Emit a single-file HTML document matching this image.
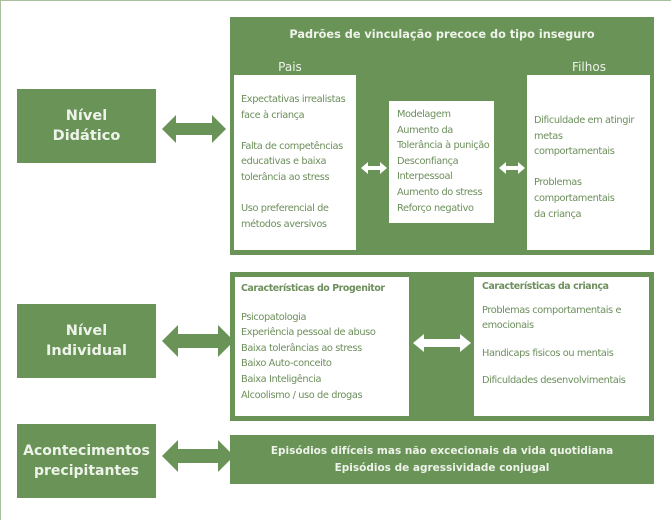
<!DOCTYPE html>
<html><head><meta charset="utf-8"><style>
*{margin:0;padding:0;box-sizing:border-box}
body{width:671px;height:520px;background:#fff;position:relative;overflow:hidden;font-family:"DejaVu Sans","Liberation Sans",sans-serif}
.frame{position:absolute;left:0;top:0;width:671px;height:520px;border-top:1px solid #a9c09c;border-left:1px solid #a9c09c}
.g{position:absolute;background:#6a9358}
.w{position:absolute;background:#fff;color:#6d8f5c;font-size:9.8px;line-height:15.6px;letter-spacing:-0.4px}
.lvl{color:#eef3ea;font-weight:bold;font-size:14.5px;line-height:20px;text-align:center;display:flex;align-items:center;justify-content:center}
svg{position:absolute}
</style></head><body>
<div class="frame"></div>

<div class="g lvl" style="left:17px;top:89px;width:139px;height:74px">Nível<br>Didático</div>
<div class="g lvl" style="left:17px;top:304px;width:139px;height:74px">Nível<br>Individual</div>
<div class="g lvl" style="left:17px;top:424px;width:139px;height:74px;font-size:14px">Acontecimentos<br>precipitantes</div>

<svg style="left:160px;top:114px" width="68" height="30"><polygon points="2,15 16,1 16,9 52,9 52,1 66,15 52,29 52,21 16,21 16,29" fill="#6a9358"/></svg>
<svg style="left:160px;top:324px" width="76" height="34"><polygon points="2,17 18,1 18,10 58,10 58,1 74,17 58,33 58,24 18,24 18,33" fill="#6a9358"/></svg>
<svg style="left:160px;top:439px" width="76" height="34"><polygon points="2,17 18,1 18,10 58,10 58,1 74,17 58,33 58,24 18,24 18,33" fill="#6a9358"/></svg>

<div class="g" style="left:230px;top:17px;width:424px;height:238px"></div>
<div style="position:absolute;left:230px;top:28px;width:424px;text-align:center;color:#eef3ea;font-weight:bold;font-size:11.3px">Padrões de vinculação precoce do tipo inseguro</div>
<div style="position:absolute;left:260px;top:60px;width:60px;text-align:center;color:#eef3ea;font-size:12px">Pais</div>
<div style="position:absolute;left:559px;top:60px;width:60px;text-align:center;color:#eef3ea;font-size:12px">Filhos</div>

<div class="w" style="left:234px;top:75px;width:122px;height:175px;padding:17px 0 0 7px">Expectativas irrealistas<br>face à criança<br><br>Falta de competências<br>educativas e baixa<br>tolerância ao stress<br><br>Uso preferencial de<br>métodos aversivos</div>
<div class="w" style="left:389px;top:101px;width:105px;height:122px;padding:6px 0 0 8px;white-space:nowrap;overflow:hidden">Modelagem<br>Aumento da<br>Tolerância à punição<br>Desconfiança<br>Interpessoal<br>Aumento do stress<br>Reforço negativo</div>
<div class="w" style="left:527px;top:75px;width:123px;height:175px;padding:38px 0 0 7px">Dificuldade em atingir<br>metas<br>comportamentais<br><br>Problemas<br>comportamentais<br>da criança</div>

<svg style="left:360px;top:161px" width="28" height="14"><polygon points="1,7 8,1 8,5 20,5 20,1 27,7 20,13 20,9 8,9 8,13" fill="#fff"/></svg>
<svg style="left:498px;top:161px" width="28" height="14"><polygon points="1,7 8,1 8,5 20,5 20,1 27,7 20,13 20,9 8,9 8,13" fill="#fff"/></svg>

<div class="g" style="left:230px;top:272px;width:424px;height:149px"></div>
<div class="w" style="left:235px;top:277px;width:174px;height:139px;padding:4px 0 0 6px"><b style="font-size:9.4px">Características do Progenitor</b><br><div style="height:13px"></div>Psicopatologia<br>Experiência pessoal de abuso<br>Baixa tolerâncias ao stress<br>Baixo Auto-conceito<br>Baixa Inteligência<br>Alcoolismo / uso de drogas</div>
<div class="w" style="left:474px;top:277px;width:175px;height:139px;padding:2px 0 0 8px"><b style="font-size:9.4px">Características da criança</b><br><div style="height:8px"></div>Problemas comportamentais e<br>emocionais<br><div style="height:12px"></div>Handicaps fisicos ou mentais<br><div style="height:12px"></div>Dificuldades desenvolvimentais</div>
<svg style="left:412px;top:333px" width="60" height="20"><polygon points="1,10 12,1 12,6 48,6 48,1 59,10 48,19 48,14 12,14 12,19" fill="#fff"/></svg>

<div class="g" style="left:230px;top:435px;width:424px;height:49px;color:#eef3ea;font-weight:bold;font-size:10.5px;line-height:17px;text-align:center;padding-top:8px">Episódios difíceis mas não excecionais da vida quotidiana<br>Episódios de agressividade conjugal</div>
</body></html>
